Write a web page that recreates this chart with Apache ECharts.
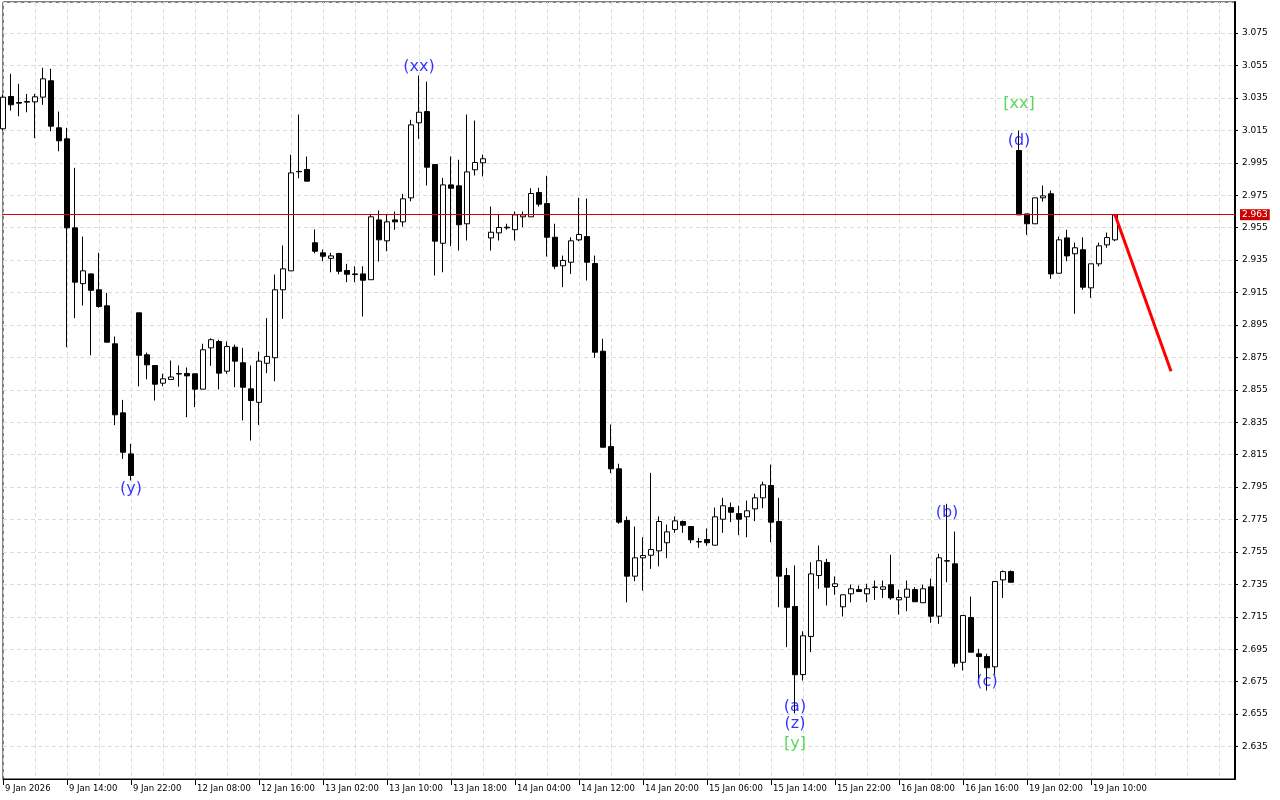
<!DOCTYPE html>
<html>
<head>
<meta charset="utf-8">
<script src="https://cdn.jsdelivr.net/npm/echarts@6/dist/echarts.min.js"></script>
<style>
html,body{margin:0;padding:0;background:#fff;}
#chart{width:1280px;height:800px;}
</style>
</head>
<body>
<div id="chart"></div>
<script>
// Trading sessions (day, first hour, last hour) used to name the hourly bars
const sessions = [['9 Jan',6,22],['12 Jan',1,23],['13 Jan',2,23],['14 Jan',2,23],['15 Jan',2,23],['16 Jan',2,22],['19 Jan',1,23],['20 Jan',2,6]];
const tickLabels = ['9 Jan 2026','9 Jan 14:00','9 Jan 22:00','12 Jan 08:00','12 Jan 16:00','13 Jan 02:00','13 Jan 10:00','13 Jan 18:00','14 Jan 04:00','14 Jan 12:00','14 Jan 20:00','15 Jan 06:00','15 Jan 14:00','15 Jan 22:00','16 Jan 08:00','16 Jan 16:00','19 Jan 02:00','19 Jan 10:00'];

const opens = [3.0160,3.0359,3.0322,3.0324,3.0326,3.0355,3.0456,3.0166,3.0098,2.9549,
2.9205,2.9265,2.9167,2.9068,2.8834,2.8408,2.8155,2.9025,2.8766,2.8700,
2.8591,2.8614,2.8650,2.8651,2.8649,2.8554,2.8809,2.8848,2.8665,2.8813,
2.8717,2.8556,2.8473,2.8714,2.8748,2.9167,2.9284,2.9897,2.9909,2.9457,
2.9395,2.9361,2.9391,2.9286,2.9265,2.9265,2.9229,2.9598,2.9469,2.9598,
2.9586,2.9734,3.0197,3.0266,2.9939,2.9454,2.9814,2.9808,2.9574,2.9907,
2.9950,2.9487,2.9518,2.9553,2.9537,2.9617,2.9617,2.9767,2.9699,2.9491,
2.9315,2.9337,2.9475,2.9495,2.9329,2.8788,2.8200,2.8063,2.7744,2.7401,
2.7514,2.7530,2.7557,2.7607,2.7689,2.7738,2.7707,2.7614,2.7627,2.7592,
2.7752,2.7824,2.7787,2.7767,2.7816,2.7884,2.7960,2.7738,2.7405,2.7214,
2.6794,2.7029,2.7405,2.7485,2.7337,2.7212,2.7292,2.7318,2.7292,2.7334,
2.7320,2.7348,2.7255,2.7271,2.7318,2.7237,2.7335,2.7154,2.7496,2.7477,
2.6870,2.7146,2.6922,2.6905,2.6842,2.7378,2.7429,3.0026,2.9635,2.9574,
2.9734,2.9759,2.9269,2.9487,2.9389,2.9414,2.9179,2.9327,2.9444,2.9475];
const closes = [3.0355,3.0308,3.0318,3.0328,3.0357,3.0468,3.0176,3.0086,2.9549,2.9214,
2.9284,2.9164,2.9064,2.8844,2.8396,2.8165,2.8022,2.8763,2.8704,2.8585,
2.8618,2.8629,2.8648,2.8636,2.8554,2.8797,2.8859,2.8653,2.8817,2.8727,
2.8566,2.8484,2.8727,2.8756,2.9167,2.9296,2.9888,2.9895,2.9837,2.9405,
2.9374,2.9376,2.9281,2.9263,2.9261,2.9226,2.9617,2.9475,2.9586,2.9586,
2.9728,3.0184,3.0262,2.9923,2.9467,2.9814,2.9793,2.9568,2.9894,2.9952,
2.9975,2.9522,2.9551,2.9549,2.9629,2.9629,2.9761,2.9695,2.9491,2.9312,
2.9348,2.9469,2.9508,2.9337,2.8782,2.8196,2.8063,2.7734,2.7401,2.7514,
2.7528,2.7565,2.7738,2.7674,2.7742,2.7715,2.7625,2.7612,2.7607,2.7767,
2.7835,2.7795,2.7752,2.7804,2.7884,2.7964,2.7734,2.7401,2.7209,2.6793,
2.7033,2.7415,2.7496,2.7333,2.7354,2.7286,2.7323,2.7306,2.7323,2.7332,
2.7335,2.7267,2.7269,2.7321,2.7243,2.7323,2.7154,2.7514,2.7494,2.6864,
2.7158,2.6932,2.6905,2.6836,2.7368,2.7429,2.7363,2.9629,2.9574,2.9734,
2.9746,2.9265,2.9475,2.9376,2.9426,2.9183,2.9327,2.9438,2.9489,2.9629];
const lows = [3.0150,3.0272,3.0237,3.0262,3.0102,3.0308,3.0145,3.0021,2.8813,2.8992,
2.9070,2.8763,2.9056,2.8844,2.8332,2.8124,2.7991,2.8572,2.8615,2.8484,
2.8572,2.8614,2.8570,2.8381,2.8443,2.8554,2.8698,2.8552,2.8649,2.8566,
2.8361,2.8237,2.8334,2.8653,2.8603,2.8988,2.9284,2.9855,2.9837,2.9392,
2.9343,2.9275,2.9263,2.9214,2.9214,2.9002,2.9229,2.9341,2.9405,2.9537,
2.9557,2.9713,3.0098,2.9810,2.9255,2.9275,2.9436,2.9409,2.9471,2.9872,
2.9866,2.9409,2.9471,2.9537,2.9471,2.9553,2.9617,2.9680,2.9372,2.9294,
2.9183,2.9265,2.9467,2.9224,2.8747,2.8196,2.8036,2.7724,2.7240,2.7370,
2.7312,2.7446,2.7462,2.7512,2.7668,2.7668,2.7604,2.7576,2.7588,2.7592,
2.7668,2.7734,2.7654,2.7641,2.7740,2.7820,2.7611,2.7209,2.6963,2.6555,
2.6757,2.6932,2.7323,2.7220,2.7286,2.7152,2.7240,2.7306,2.7240,2.7255,
2.7267,2.7255,2.7164,2.7185,2.7243,2.7237,2.7113,2.7107,2.7364,2.6840,
2.6819,2.6932,2.6768,2.6696,2.6794,2.7267,2.7363,2.9629,2.9506,2.9574,
2.9711,2.9235,2.9269,2.9343,2.9019,2.9167,2.9117,2.9311,2.9426,2.9467];
const highs = [3.0370,3.0499,3.0437,3.0375,3.0375,3.0536,3.0530,3.0266,3.0166,2.9919,
2.9495,2.9266,2.9395,2.9148,2.8879,2.8488,2.8217,2.9025,2.8780,2.8700,
2.8649,2.8731,2.8700,2.8688,2.8649,2.8834,2.8868,2.8859,2.8848,2.8829,
2.8809,2.8700,2.8786,2.8992,2.9261,2.9440,3.0000,3.0248,2.9989,2.9539,
2.9415,2.9395,2.9395,2.9327,2.9312,2.9312,2.9629,2.9656,2.9631,2.9650,
2.9759,3.0215,3.0488,3.0451,2.9939,2.9857,2.9989,2.9969,3.0248,3.0211,
3.0001,2.9680,2.9631,2.9574,2.9650,2.9650,2.9793,2.9796,2.9870,2.9574,
2.9378,2.9491,2.9734,2.9730,2.9378,2.8865,2.8336,2.8094,2.7769,2.7707,
2.7641,2.8038,2.7769,2.7719,2.7769,2.7744,2.7707,2.7637,2.7695,2.7824,
2.7884,2.7855,2.7835,2.7867,2.7909,2.7984,2.8089,2.7884,2.7452,2.7467,
2.7061,2.7487,2.7590,2.7508,2.7399,2.7286,2.7349,2.7343,2.7354,2.7374,
2.7374,2.7533,2.7318,2.7374,2.7333,2.7348,2.7385,2.7539,2.7847,2.7676,
2.7158,2.7275,2.6953,2.6922,2.7368,2.7436,2.7436,3.0149,2.9635,2.9734,
2.9810,2.9779,2.9495,2.9537,2.9458,2.9491,2.9327,2.9458,2.9520,2.9635];

const currentPrice = 2.963;
// Projection line: bar indices and prices
const projIdx = [139, 146];
const projPrice = [2.963, 2.8665];

// Wave labels
const blueText = ['(xx)','(y)','(a)','(z)','(b)','(c)','(d)'];
const blueIdx = [52,16,99,99,118,123,127];
const bluePrice = [3.0540,2.7941,2.6597,2.6488,2.7790,2.6748,3.0087];
const greenText = ['[y]','[xx]'];
const greenIdx = [99,127];
const greenPrice = [2.6369,3.0316];

// ---- build ----
const pad = n => (n < 10 ? '0' : '') + n;
const categories = [];
sessions.forEach(([d, h0, h1]) => { for (let h = h0; h <= h1; h++) categories.push(d + ' ' + pad(h) + ':00'); });

const candleData = opens.map((o, i) => [o, closes[i], lows[i], highs[i]]);
const isTick = idx => idx % 8 === 0 && idx / 8 < tickLabels.length;

const chart = echarts.init(document.getElementById('chart'), null, {renderer: 'canvas'});
const option = {
  animation: false,
  backgroundColor: '#ffffff',
  grid: {left: 3, top: 2, width: 1232, height: 777, show: true, borderColor: '#000', borderWidth: 1, backgroundColor: '#fff'},
  xAxis: {
    type: 'category', data: categories, boundaryGap: false,
    axisLine: {show: true, lineStyle: {color: '#000', width: 1}},
    axisTick: {show: true, interval: (i) => isTick(i), length: 6, lineStyle: {color: '#000'}},
    axisLabel: {
      interval: (i) => isTick(i), hideOverlap: false, align: 'left', margin: 5,
      padding: [0, 0, 0, 2],
      fontFamily: 'DejaVu Sans', fontSize: 8.5, color: '#000',
      formatter: (v, i) => isTick(i) ? tickLabels[i / 8] : ''
    },
    splitLine: {show: true, interval: (i) => i % 4 === 0, lineStyle: {color: '#dcdcdc', type: [4, 3], width: 1}}
  },
  yAxis: {
    type: 'value', position: 'right', min: 2.615, max: 3.09418, interval: 0.02,
    axisLine: {show: true, lineStyle: {color: '#000', width: 2}},
    axisTick: {show: true, length: 3, lineStyle: {color: '#000'}},
    axisLabel: {showMinLabel: false, showMaxLabel: false, margin: 7, fontFamily: 'DejaVu Sans', fontSize: 9, color: '#000',
      formatter: v => v.toFixed(3)},
    splitLine: {show: true, lineStyle: {color: '#dcdcdc', type: [4, 3], width: 1}}
  },
  series: [
    {
      type: 'candlestick', data: candleData, barWidth: 5,
      itemStyle: {color: '#ffffff', color0: '#000000', borderColor: '#000000', borderColor0: '#000000', borderWidth: 1}
    },
    {
      type: 'line', data: projIdx.map((k, i) => [categories[k], projPrice[i]]),
      symbol: 'none', lineStyle: {color: '#ff0000', width: 3}, itemStyle: {color: '#ff0000'}, z: 5, silent: true,
      markLine: {
        silent: true, symbol: ['none', 'none'], animation: false, precision: 3,
        lineStyle: {color: '#dd0000', width: 1, type: 'solid'},
        label: {show: true, position: 'end', distance: 5, formatter: currentPrice.toFixed(3), color: '#fff',
          backgroundColor: '#cc0000', padding: [1, 2, 1, 2], fontFamily: 'DejaVu Sans', fontSize: 9},
        data: [{yAxis: currentPrice, lineStyle: {color: '#dd0000', width: 1, type: 'solid'}}]
      }
    },
    {
      type: 'scatter', symbolSize: 1, itemStyle: {color: 'rgba(0,0,0,0)'}, z: 6, silent: true,
      data: blueText.map((t, i) => ({name: t, value: [categories[blueIdx[i]], bluePrice[i]]})),
      label: {show: true, position: 'inside', formatter: '{b}', color: '#0000ff', fontFamily: 'DejaVu Sans', fontSize: 16}
    },
    {
      type: 'scatter', symbolSize: 1, itemStyle: {color: 'rgba(0,0,0,0)'}, z: 6, silent: true,
      data: greenText.map((t, i) => ({name: t, value: [categories[greenIdx[i]], greenPrice[i]]})),
      label: {show: true, position: 'inside', formatter: '{b}', color: '#32cd32', fontFamily: 'DejaVu Sans', fontSize: 16}
    }
  ]
};
chart.setOption(option);
</script>
</body>
</html>
